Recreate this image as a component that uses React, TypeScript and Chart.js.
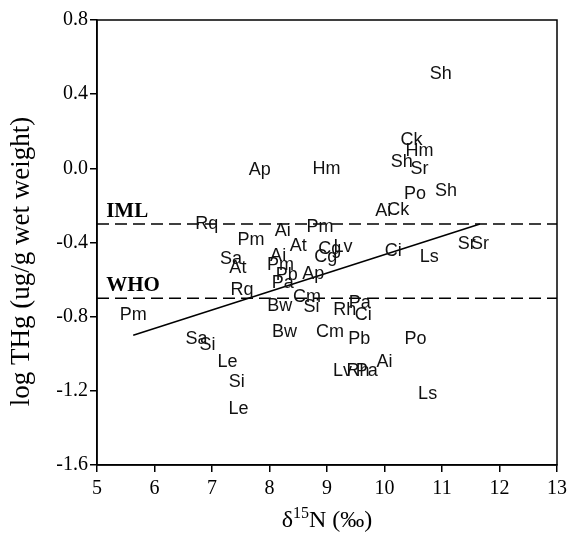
import React, { useEffect, useRef } from "react";
import { Chart, registerables } from "chart.js";

Chart.register(...registerables);

// Species labels and their coordinates (δ15N, log THg)
const speciesLabels = [
  "Sh", "Ck", "Hm", "Sh", "Sr", "Ap", "Hm", "Po", "Sh", "Ai",
  "Ck", "Rq", "Pm", "Ai", "Pm", "At", "Cg", "Lv", "Cg", "Ci",
  "Ls", "Sr", "Sr", "Sa", "At", "Ai", "Pm", "Pb", "Ap", "Pa",
  "Rq", "Cm", "Bw", "Si", "Rh", "Pa", "Ci", "Pm", "Bw", "Cm",
  "Pb", "Po", "Sa", "Si", "Le", "Si", "Le", "Lv", "Rh", "Pa",
  "Ai", "Ls",
];
const nitrogenValues = [
  10.98, 10.47, 10.61, 10.3, 10.61, 7.83, 8.99, 10.53, 11.07, 9.98,
  10.24, 6.91, 7.68, 8.23, 8.88, 8.5, 9.05, 9.28, 8.98, 10.15,
  10.78, 11.43, 11.66, 7.33, 7.45, 8.15, 8.19, 8.3, 8.76, 8.23,
  7.52, 8.65, 8.18, 8.73, 9.31, 9.57, 9.63, 5.63, 8.26, 9.05,
  9.56, 10.54, 6.73, 6.92, 7.27, 7.43, 7.46, 9.27, 9.54, 9.69,
  10.0, 10.75,
];
const mercuryValues = [
  0.51, 0.153, 0.095, 0.032, -0.004, -0.01, -0.004, -0.14, -0.12, -0.23,
  -0.225, -0.3, -0.387, -0.336, -0.317, -0.42, -0.435, -0.423, -0.477, -0.444,
  -0.48, -0.408, -0.408, -0.489, -0.536, -0.473, -0.52, -0.575, -0.57, -0.619,
  -0.656, -0.692, -0.743, -0.746, -0.764, -0.728, -0.79, -0.79, -0.885, -0.885,
  -0.92, -0.92, -0.92, -0.953, -1.045, -1.153, -1.3, -1.093, -1.093, -1.093,
  -1.046, -1.219,
];

// Regression line end points
const regressionX = [5.63, 11.66];
const regressionY = [-0.9, -0.3];

// Threshold lines
const thresholdNames = ["IML", "WHO"];
const thresholdValues = [-0.3, -0.7];

// Axis ranges
const xRange = [5, 13];
const yRange = [-1.6, 0.8];
const xStep = 1;
const yStep = 0.4;
const thresholdLabelX = 5.16;

const SERIF = "'Liberation Serif', 'Times New Roman', serif";
const SANS = "'Liberation Sans', Arial, sans-serif";

export default function App() {
  const canvasRef = useRef<HTMLCanvasElement | null>(null);

  useEffect(() => {
    document.body.style.margin = "0";
    const canvas = canvasRef.current;
    if (!canvas) return;

    const labelPlugin = {
      id: "speciesLabels",
      afterDatasetsDraw(chart: any) {
        const ctx = chart.ctx;
        const meta = chart.getDatasetMeta(0);
        ctx.save();
        ctx.font = `18px ${SANS}`;
        ctx.fillStyle = "#111";
        ctx.textAlign = "center";
        ctx.textBaseline = "middle";
        meta.data.forEach((pt: any, i: number) => {
          ctx.fillText(speciesLabels[i], pt.x, pt.y);
        });
        ctx.restore();
      },
    };

    const framePlugin = {
      id: "frameAndText",
      afterDraw(chart: any) {
        const ctx = chart.ctx;
        const a = chart.chartArea;
        const xs = chart.scales.x;
        const ys = chart.scales.y;
        ctx.save();
        ctx.strokeStyle = "#000";
        ctx.lineWidth = 1.5;
        ctx.strokeRect(a.left, a.top, a.right - a.left, a.bottom - a.top);

        // threshold labels
        ctx.font = `bold 21px ${SERIF}`;
        ctx.fillStyle = "#000";
        ctx.textAlign = "left";
        ctx.textBaseline = "alphabetic";
        thresholdNames.forEach((n, i) => {
          ctx.fillText(n, xs.getPixelForValue(thresholdLabelX), ys.getPixelForValue(thresholdValues[i]) - 7);
        });

        // y title
        ctx.save();
        ctx.translate(22, (a.top + a.bottom) / 2 + 19);
        ctx.rotate(-Math.PI / 2);
        ctx.font = `27px ${SERIF}`;
        ctx.textAlign = "center";
        ctx.textBaseline = "middle";
        ctx.fillText("log THg (ug/g wet weight)", 0, 0);
        ctx.restore();

        // x title with superscript
        const big = `24px ${SERIF}`;
        const small = `16px ${SERIF}`;
        ctx.textBaseline = "alphabetic";
        ctx.font = big;
        const wD = ctx.measureText("δ").width;
        const wRest = ctx.measureText("N (‰)").width;
        ctx.font = small;
        const wSup = ctx.measureText("15").width;
        const total = wD + wSup + wRest;
        let x = (a.left + a.right) / 2 - total / 2;
        const baseY = 527;
        ctx.font = big;
        ctx.fillText("δ", x, baseY);
        x += wD;
        ctx.font = small;
        ctx.fillText("15", x, baseY - 9);
        x += wSup;
        ctx.font = big;
        ctx.fillText("N (‰)", x, baseY);
        ctx.restore();
      },
    };

    const chart = new Chart(canvas, {
      type: "scatter",
      data: {
        datasets: [
          {
            data: nitrogenValues.map((x, i) => ({ x, y: mercuryValues[i] })),
            pointRadius: 0,
            pointHoverRadius: 0,
            showLine: false,
          },
          ...thresholdValues.map((v) => ({
            data: [
              { x: xRange[0], y: v },
              { x: xRange[1], y: v },
            ],
            showLine: true,
            borderColor: "#000",
            borderWidth: 1.5,
            borderDash: [12, 6],
            pointRadius: 0,
          })),
          {
            data: regressionX.map((x, i) => ({ x, y: regressionY[i] })),
            showLine: true,
            borderColor: "#000",
            borderWidth: 1.5,
            pointRadius: 0,
          },
        ],
      },
      options: {
        responsive: false,
        animation: false,
        layout: { padding: { top: 20, right: 12, left: 0, bottom: 0 } },
        plugins: {
          legend: { display: false },
          tooltip: { enabled: false },
        },
        scales: {
          x: {
            type: "linear",
            min: xRange[0],
            max: xRange[1],
            afterFit: (s: any) => {
              s.height = 68;
              s.paddingLeft = 0;
              s.paddingRight = 0;
            },
            ticks: {
              stepSize: xStep,
              color: "#000",
              font: { family: SERIF, size: 20 },
              padding: 5,
            },
            grid: { drawOnChartArea: false, drawTicks: true, tickLength: 7, color: "#000", lineWidth: 1.5 },
            border: { color: "#000", width: 1.5 },
          },
          y: {
            type: "linear",
            min: yRange[0],
            max: yRange[1],
            afterFit: (s: any) => {
              s.width = 97;
              s.paddingTop = 0;
              s.paddingBottom = 0;
            },
            ticks: {
              stepSize: yStep,
              color: "#000",
              font: { family: SERIF, size: 20 },
              padding: 2,
              callback: (v: any) => (Math.abs(Number(v)) < 1e-9 ? "0.0" : Number(v).toFixed(1)),
            },
            grid: { drawOnChartArea: false, drawTicks: true, tickLength: 7, color: "#000", lineWidth: 1.5 },
            border: { color: "#000", width: 1.5 },
          },
        },
      },
      plugins: [labelPlugin, framePlugin],
    });

    return () => chart.destroy();
  }, []);

  return <canvas ref={canvasRef} width={569} height={533} style={{ display: "block" }} />;
}
